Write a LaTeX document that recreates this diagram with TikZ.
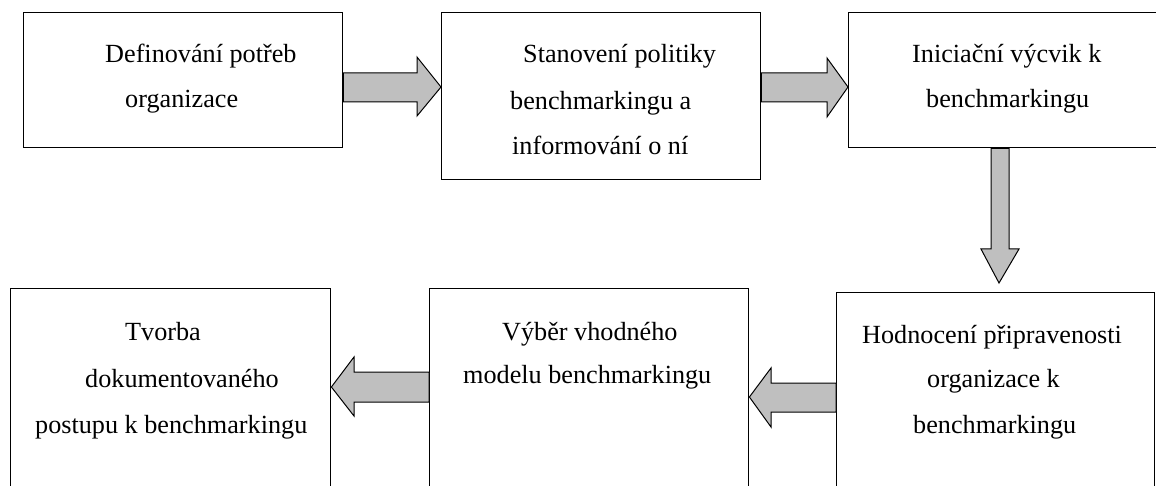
\documentclass[tikz,border=0pt]{standalone}
\usepackage{fontspec}
\setmainfont{Liberation Serif}
\begin{document}
\begin{tikzpicture}[x=1pt,y=-1pt,
  stepbox/.style={draw=black,line width=1.4pt,fill=white,rectangle,inner sep=0pt},
  label/.style={anchor=base west,inner sep=0pt,font=\fontsize{26.2}{45}\selectfont},
  blockarrow/.style={draw=black,line width=1pt,fill=black!25,line join=miter}]
\useasboundingbox (0,0) rectangle (1156,486);
\clip (0,0) rectangle (1156,486);

% process boxes (lower row runs past the bottom edge)
\node[stepbox,anchor=north west,minimum width=319pt,minimum height=135pt] (b1) at (23,12) {};
\node[stepbox,anchor=north west,minimum width=319pt,minimum height=167pt] (b2) at (441,12) {};
\node[stepbox,anchor=north west,minimum width=320pt,minimum height=135pt] (b3) at (848,12) {};
\node[stepbox,anchor=north west,minimum width=318pt,minimum height=220pt] (b4) at (836,292) {};
\node[stepbox,anchor=north west,minimum width=319pt,minimum height=220pt] (b5) at (429,288) {};
\node[stepbox,anchor=north west,minimum width=320pt,minimum height=220pt] (b6) at (10,288) {};

% block arrows between the boxes
\draw[blockarrow] (b1.east |- 0,73) -- (417,73) -- (417,57) -- (b2.west |- 0,87)
  -- (417,116) -- (417,102) -- (b1.east |- 0,102) -- cycle;
\draw[blockarrow] (b2.east |- 0,73) -- (827,73) -- (827,58) -- (b3.west |- 0,87)
  -- (827,117) -- (827,102) -- (b2.east |- 0,102) -- cycle;
\draw[blockarrow] (991,0 |- b3.south) -- (991,249) -- (981,249) -- (999,283)
  -- (1019,249) -- (1009,249) -- (1009,0 |- b3.south) -- cycle;
\draw[blockarrow] (b4.west |- 0,383) -- (771,383) -- (771,368) -- (b5.east |- 0,397)
  -- (771,427) -- (771,412) -- (b4.west |- 0,412) -- cycle;
\draw[blockarrow] (b5.west |- 0,372) -- (354,372) -- (354,357) -- (b6.east |- 0,387)
  -- (354,416) -- (354,402) -- (b5.west |- 0,402) -- cycle;

% box texts
\node[label] (t1a) at (105,63) {Definování potřeb};
\node[label] (t1b) at (125,108) {organizace};

\node[label] (t2a) at (523,63) {Stanovení politiky};
\node[label] (t2b) at (510,110) {benchmarkingu a};
\node[label] (t2c) at (512,155) {informování o ní};

\node[label] (t3a) at (912,63) {Iniciační výcvik k};
\node[label] (t3b) at (926,108) {benchmarkingu};

\node[label] (t4a) at (862,343) {Hodnocení připravenosti};
\node[label] (t4b) at (927,387) {organizace k};
\node[label] (t4c) at (913,433) {benchmarkingu};

\node[label] (t5a) at (502,340) {Výběr vhodného};
\node[label] (t5b) at (463,383) {modelu benchmarkingu};

\node[label] (t6a) at (125,340) {Tvorba};
\node[label] (t6b) at (85,387) {dokumentovaného};
\node[label] (t6c) at (35,433) {postupu k benchmarkingu};
\end{tikzpicture}
\end{document}
